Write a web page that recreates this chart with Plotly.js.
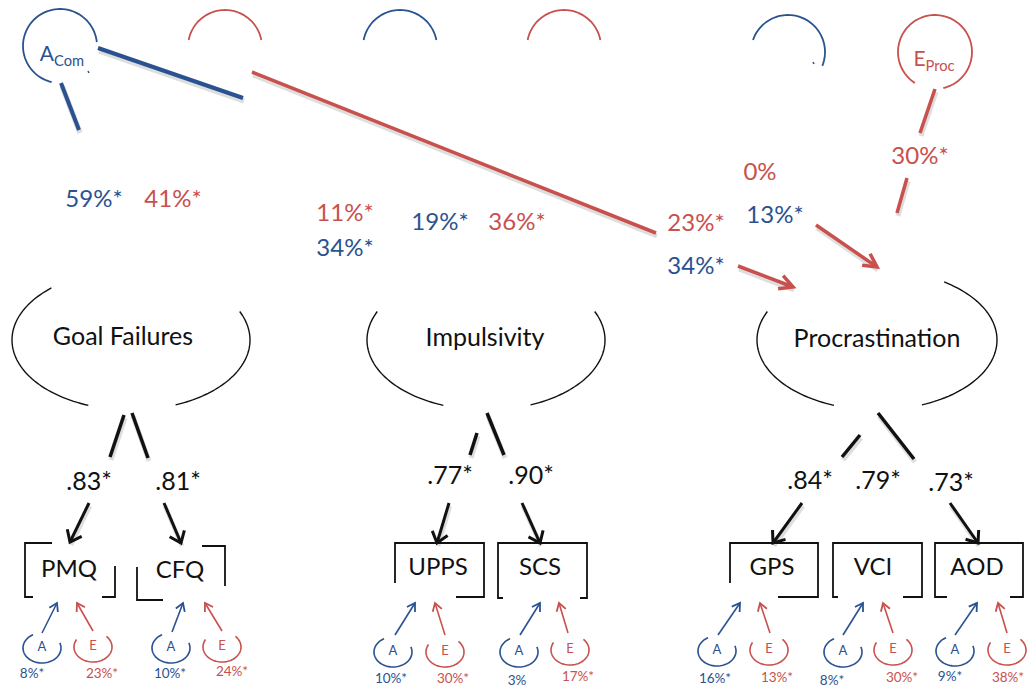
<!DOCTYPE html>
<html><head><meta charset="utf-8">
<script src="https://cdn.plot.ly/plotly-3.0.1.min.js"></script>
<style>html,body{margin:0;padding:0;background:#fff}</style>
</head><body><div id="chart" style="width:1027px;height:690px"></div>
<script>
// ================= DATA =================
const latentNames = ['Goal Failures', 'Impulsivity', 'Procrastination'];
const indicatorNames = ['PMQ', 'CFQ', 'UPPS', 'SCS', 'GPS', 'VCI', 'AOD'];
const loadings = [0.83, 0.81, 0.77, 0.90, 0.84, 0.79, 0.73];
const loadingSig = [true, true, true, true, true, true, true];
const indicatorA = [8, 10, 10, 3, 16, 8, 9];
const indicatorASig = [true, true, true, false, true, true, true];
const indicatorE = [23, 24, 30, 17, 13, 30, 38];
const indicatorESig = [true, true, true, true, true, true, true];
const commonFactors = ['A', 'E'];
const commonFactorSubs = ['Com', 'Proc'];
const pathValues = [59, 41, 11, 34, 19, 36, 23, 34, 0, 13, 30];
const pathFactor = ['A', 'E', 'E', 'A', 'A', 'E', 'E', 'A', 'E', 'A', 'E'];
const pathSig = [true, true, true, true, true, true, true, true, false, true, true];

// ================= STYLE / GEOMETRY =================
const BLUE = '#2a5291', RED = '#c8504d', BLACK = '#111111';
const FONT = 'Lato, "Open Sans", sans-serif';
const colorOf = f => (f === 'A' ? BLUE : RED);

const latentGeo = [
  {cx: 131, cy: 340, rx: 119, ry: 70, arcs: [[111, 228], [-24, 68]], tx: 123, ty: 339},
  {cx: 486, cy: 340, rx: 119, ry: 70, arcs: [[111, 204], [-24, 68]], tx: 485, ty: 340},
  {cx: 877, cy: 340, rx: 120, ry: 70, arcs: [[111, 204], [-56, 68]], tx: 877, ty: 341}
];
const topArcs = [
  {cx: 60, cy: 46, r: 37, t0: -257, t1: -6, c: BLUE},
  {cx: 225, cy: 47, r: 37, t0: -169, t1: -11, c: RED},
  {cx: 400, cy: 47, r: 37, t0: -169, t1: -11, c: BLUE},
  {cx: 564, cy: 47, r: 37, t0: -169, t1: -11, c: RED},
  {cx: 788, cy: 52, r: 37, t0: -161, t1: 22, c: BLUE},
  {cx: 935, cy: 52, r: 37, t0: 123, t1: 437, c: RED}
];
const commonLabelPos = [[62, 56], [934, 61]];
const thickLines = [
  {p: [98, 48, 243, 98], c: BLUE, w: 4},
  {p: [61, 83, 79, 130], c: BLUE, w: 4},
  {p: [252, 72, 656, 233], c: RED, w: 3.5},
  {p: [935, 89, 920, 133], c: RED, w: 3.5},
  {p: [907, 178, 897, 213], c: RED, w: 3.5},
  {p: [124, 415, 110, 457], c: BLACK, w: 3.5},
  {p: [132, 413, 148, 458], c: BLACK, w: 3.5},
  {p: [477, 433, 470, 455], c: BLACK, w: 3.5},
  {p: [487, 413, 504, 455], c: BLACK, w: 3.5},
  {p: [860, 435, 842, 457], c: BLACK, w: 3.5},
  {p: [878, 413, 914, 459], c: BLACK, w: 3.5}
];
const thickArrows = [
  {p: [816, 225, 877, 267], c: RED, w: 3.5, L: 15},
  {p: [738, 266, 793, 287], c: RED, w: 3.5, L: 15}
];
const stubs = [[88, 71, 89, 73], [813, 62, 814, 64]];
const pathLabelPos = [[94, 201], [173, 201], [345, 215], [345, 250], [440, 224], [517, 224],
                      [696, 225], [696, 268], [760, 174], [775, 217], [920, 158]];
const loadingLabelPos = [[89, 484], [178, 484], [450, 478], [531, 478], [810, 483], [878, 483], [951, 485]];
const loadingArrows = [[89, 503, 70, 542], [164, 503, 181, 543], [449, 503, 437, 543], [522, 503, 540, 543],
                       [802, 503, 773, 543], [950, 503, 978, 543]];
const boxPolys = [
  [[[52, 543], [25, 543], [25, 597], [33, 597]], [[115, 566], [115, 597], [102, 597]]],
  [[[137, 567], [137, 600], [163, 600]], [[202, 546], [225, 546], [225, 586]]],
  [[[395, 583], [395, 543], [484, 543], [484, 597], [456, 597]]],
  [[[503, 598], [498, 598], [498, 543], [587, 543], [587, 598], [580, 598]]],
  [[[730, 583], [730, 543], [818, 543], [818, 597], [778, 597]]],
  [[[838, 597], [833, 597], [833, 543], [922, 543], [922, 597], [903, 597]]],
  [[[947, 597], [935, 597], [935, 543], [1023, 543], [1023, 597], [1010, 597]]]
];
const boxLabelPos = [[69, 571], [180, 572], [438, 569], [540, 569], [772, 569], [873, 569], [977, 569]];
const aCirc = [[42, 648], [171, 648], [393, 652], [519, 652], [717, 651], [843, 652], [955, 651]];
const eCirc = [[93, 647], [222, 647], [445, 652], [570, 650], [769, 650], [893, 650], [1007, 650]];
const aArrow = [[42, 633, 57, 603], [172, 632, 183, 603], [395, 635, 415, 603], [520, 635, 540, 603],
                [718, 635, 740, 603], [843, 635, 863, 603], [955, 635, 977, 603]];
const eArrow = [[93, 631, 77, 603], [222, 631, 205, 603], [445, 635, 435, 603], [568, 633, 559, 603],
                [770, 633, 760, 603], [893, 633, 883, 603], [1007, 633, 998, 603]];
const aPctPos = [[32, 675], [170, 675], [391, 680], [517, 682], [715, 680], [832, 682], [950, 678]];
const ePctPos = [[102, 675], [232, 673], [453, 680], [578, 678], [777, 679], [902, 679], [1008, 679]];

// ================= HELPERS =================
const R = Math.PI / 180;
function arcPath(cx, cy, rx, ry, t0, t1, n) {
  n = n || 60; let d = '';
  for (let i = 0; i <= n; i++) {
    const t = (t0 + (t1 - t0) * i / n) * R;
    d += (i ? 'L' : 'M') + (cx + rx * Math.cos(t)).toFixed(2) + ',' + (cy + ry * Math.sin(t)).toFixed(2);
  }
  return d;
}
function polyPath(pts) { return pts.map((p, i) => (i ? 'L' : 'M') + p[0] + ',' + p[1]).join(''); }
function vHead(x0, y0, x1, y1, L, ang) {
  const a = Math.atan2(y1 - y0, x1 - x0), h = ang * R;
  const w1 = [x1 - L * Math.cos(a - h), y1 - L * Math.sin(a - h)];
  const w2 = [x1 - L * Math.cos(a + h), y1 - L * Math.sin(a + h)];
  return 'M' + w1[0].toFixed(2) + ',' + w1[1].toFixed(2) + 'L' + x1 + ',' + y1 + 'L' + w2[0].toFixed(2) + ',' + w2[1].toFixed(2);
}
const shapes = [];
function line(p, c, w) { shapes.push({type: 'line', xref: 'x', yref: 'y', x0: p[0], y0: p[1], x1: p[2], y1: p[3], line: {color: c, width: w}}); }
function path(d, c, w) { shapes.push({type: 'path', xref: 'x', yref: 'y', path: d, line: {color: c, width: w}}); }
function shadow(p, w) { line([p[0] + 1, p[1] + 3, p[2] + 1, p[3] + 3], 'rgba(0,0,0,0.13)', w + 1.5); }

// ================= SHAPES =================
latentGeo.forEach(g => g.arcs.forEach(a => path(arcPath(g.cx, g.cy, g.rx, g.ry, a[0], a[1]), BLACK, 1.4)));
topArcs.forEach(a => path(arcPath(a.cx, a.cy, a.r, a.r, a.t0, a.t1), a.c, 1.8));
stubs.forEach(s => line(s, BLUE, 1.5));
thickLines.forEach(l => { shadow(l.p, l.w); });
thickArrows.forEach(l => { shadow(l.p, l.w); });
loadingArrows.forEach(p => shadow(p, 3));
thickLines.forEach(l => line(l.p, l.c, l.w));
thickArrows.forEach(l => { line(l.p, l.c, l.w); path(vHead(l.p[0], l.p[1], l.p[2], l.p[3], l.L, 28), l.c, l.w); });
loadingArrows.forEach(p => { line(p, BLACK, 3); path(vHead(p[0], p[1], p[2], p[3], 13, 38), BLACK, 3); });
boxPolys.forEach(b => b.forEach(pl => path(polyPath(pl), BLACK, 1.8)));
aCirc.forEach(c => path(arcPath(c[0], c[1], 19, 15, -20, 242), BLUE, 1.6));
eCirc.forEach(c => path(arcPath(c[0], c[1], 19, 15, -45, 210), RED, 1.6));
aArrow.forEach(p => { line(p, BLUE, 1.6); path(vHead(p[0], p[1], p[2], p[3], 9, 32), BLUE, 1.8); });
eArrow.forEach(p => { line(p, RED, 1.6); path(vHead(p[0], p[1], p[2], p[3], 9, 32), RED, 1.8); });

// ================= TEXT TRACES =================
const pct = (v, s) => v + '%' + (s ? '*' : '');
const ld = (v, s) => '.' + Math.round(v * 100) + (s ? '*' : '');
function textTrace(pos, texts, colors, size) {
  return {type: 'scatter', mode: 'text', x: pos.map(p => p[0]), y: pos.map(p => p[1]), text: texts,
          textposition: 'middle center', textfont: {family: FONT, size: size, color: colors},
          hoverinfo: 'skip', showlegend: false, cliponaxis: false};
}
const traces = [
  textTrace(latentGeo.map(g => [g.tx, g.ty]), latentNames, latentNames.map(() => BLACK), 25),
  textTrace(commonLabelPos, commonFactors.map((f, i) => f + '<sub>' + commonFactorSubs[i] + '</sub>'),
            commonFactors.map(colorOf), 21),
  textTrace(pathLabelPos, pathValues.map((v, i) => pct(v, pathSig[i])), pathFactor.map(colorOf), 24),
  textTrace(loadingLabelPos, loadings.map((v, i) => ld(v, loadingSig[i])), loadings.map(() => BLACK), 25),
  textTrace(boxLabelPos, indicatorNames, indicatorNames.map(() => BLACK), 24),
  textTrace(aCirc, indicatorNames.map(() => 'A'), indicatorNames.map(() => BLUE), 13),
  textTrace(eCirc, indicatorNames.map(() => 'E'), indicatorNames.map(() => RED), 13),
  textTrace(aPctPos, indicatorA.map((v, i) => pct(v, indicatorASig[i])), indicatorA.map(() => BLUE), 13.5),
  textTrace(ePctPos, indicatorE.map((v, i) => pct(v, indicatorESig[i])), indicatorE.map(() => RED), 13.5)
];

const layout = {
  width: 1027, height: 690, margin: {l: 0, r: 0, t: 0, b: 0},
  paper_bgcolor: '#ffffff', plot_bgcolor: '#ffffff',
  xaxis: {range: [0, 1027], visible: false, fixedrange: true},
  yaxis: {range: [690, 0], visible: false, fixedrange: true},
  shapes: shapes, showlegend: false, hovermode: false
};
Plotly.newPlot('chart', traces, layout, {staticPlot: true, displayModeBar: false});
</script></body></html>
